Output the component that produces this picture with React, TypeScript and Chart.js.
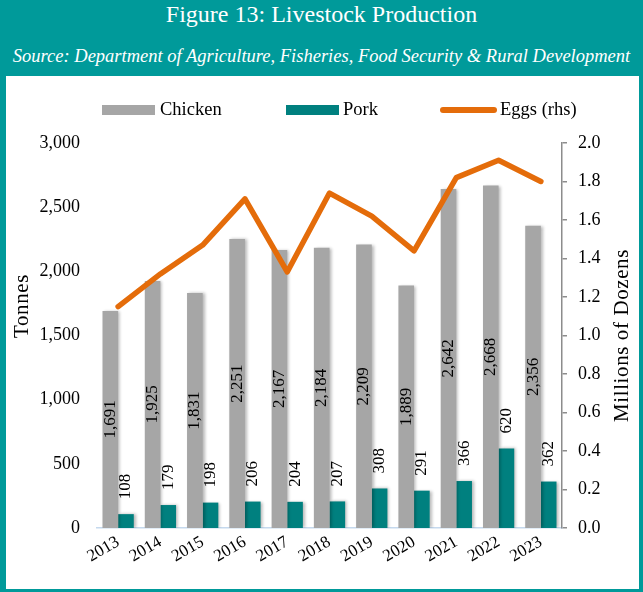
import { useEffect, useRef } from 'react';
import { Chart, registerables } from 'chart.js';

Chart.register(...registerables);

const years = ['2013', '2014', '2015', '2016', '2017', '2018', '2019', '2020', '2021', '2022', '2023'];
const chicken = [1691, 1925, 1831, 2251, 2167, 2184, 2209, 1889, 2642, 2668, 2356];
const pork = [108, 179, 198, 206, 204, 207, 308, 291, 366, 620, 362];
const eggs = [1.15, 1.32, 1.47, 1.71, 1.33, 1.74, 1.62, 1.44, 1.82, 1.91, 1.8];

const TEAL = '#009A9A';
const PORK = '#00807F';
const GRAY = '#A6A6A6';
const ORANGE = '#E46C0A';
const AXIS_GRAY = '#8C8C8C';
const FONT = "'Liberation Serif', 'Times New Roman', serif";

const fmt = (v: number) => v.toLocaleString('en-US');

const overlayPlugin = {
  id: 'overlay',
  beforeDatasetDraw(chart: any, args: any) {
    if (args.meta.type === 'bar') {
      const ctx = chart.ctx;
      ctx.save();
      ctx.shadowColor = 'rgba(0,0,0,0.28)';
      ctx.shadowBlur = 3;
      ctx.shadowOffsetX = 2;
      ctx.shadowOffsetY = 0;
    }
  },
  afterDatasetDraw(chart: any, args: any) {
    if (args.meta.type === 'bar') chart.ctx.restore();
  },
  afterDraw(chart: any) {
    const ctx = chart.ctx as any;
    ctx.save();
    ctx.fillStyle = '#000';
    // data labels
    ctx.font = `17px ${FONT}`;
    chart.data.datasets.forEach((ds: any, di: number) => {
      const meta = chart.getDatasetMeta(di);
      if (meta.type !== 'bar') return;
      meta.data.forEach((bar: any, i: number) => {
        const val = ds.data[i] as number;
        const txt = fmt(val);
        ctx.save();
        if (ds.label === 'Chicken') {
          ctx.translate(bar.x, (bar.y + bar.base) / 2);
          ctx.rotate(-Math.PI / 2);
          ctx.textAlign = 'center';
          ctx.textBaseline = 'middle';
          ctx.fillText(txt, 0, 0);
        } else {
          ctx.translate(bar.x, bar.y - 15);
          ctx.rotate(-Math.PI / 2);
          ctx.textAlign = 'left';
          ctx.textBaseline = 'middle';
          ctx.fillText(txt, 0, 0);
        }
        ctx.restore();
      });
    });
    // axis titles
    ctx.font = `21px ${FONT}`;
    ctx.letterSpacing = '0.6px';
    ctx.textAlign = 'center';
    ctx.textBaseline = 'middle';
    ctx.save();
    ctx.translate(16, 230);
    ctx.rotate(-Math.PI / 2);
    ctx.fillText('Tonnes', 0, 0);
    ctx.restore();
    ctx.save();
    ctx.translate(616, (chart.chartArea.top + chart.chartArea.bottom) / 2);
    ctx.rotate(-Math.PI / 2);
    ctx.fillText('Millions of Dozens', 0, 0);
    ctx.restore();
    ctx.letterSpacing = '0px';
    // legend
    const ly = 34;
    ctx.font = `18.5px ${FONT}`;
    ctx.textAlign = 'left';
    ctx.textBaseline = 'middle';
    ctx.fillStyle = GRAY;
    ctx.fillRect(96, ly - 5, 53, 10);
    ctx.fillStyle = '#000';
    ctx.fillText('Chicken', 154, ly);
    ctx.fillStyle = PORK;
    ctx.fillRect(280, ly - 5, 53, 10);
    ctx.fillStyle = '#000';
    ctx.fillText('Pork', 337, ly);
    ctx.strokeStyle = ORANGE;
    ctx.lineWidth = 6;
    ctx.lineCap = 'round';
    ctx.beginPath();
    ctx.moveTo(437, ly);
    ctx.lineTo(488, ly);
    ctx.stroke();
    ctx.fillStyle = '#000';
    ctx.fillText('Eggs (rhs)', 494, ly);
    ctx.restore();
  },
};

export default function App() {
  const ref = useRef<HTMLCanvasElement>(null);
  useEffect(() => {
    document.body.style.margin = '0';
    const chart = new Chart(ref.current!, {
      data: {
        labels: years,
        datasets: [
          {
            type: 'line',
            label: 'Eggs (rhs)',
            data: eggs,
            yAxisID: 'y1',
            borderColor: ORANGE,
            backgroundColor: ORANGE,
            borderWidth: 5.5,
            pointRadius: 0,
            tension: 0,
            borderJoinStyle: 'round',
            borderCapStyle: 'round',
            order: 0,
          } as any,
          {
            type: 'bar',
            label: 'Chicken',
            data: chicken,
            yAxisID: 'y',
            backgroundColor: GRAY,
            categoryPercentage: 0.74,
            barPercentage: 1,
            order: 1,
          },
          {
            type: 'bar',
            label: 'Pork',
            data: pork,
            yAxisID: 'y',
            backgroundColor: PORK,
            categoryPercentage: 0.74,
            barPercentage: 1,
            order: 2,
          },
        ],
      },
      options: {
        responsive: false,
        animation: false,
        layout: { padding: { top: 67, left: 0, right: 0, bottom: 0 } },
        plugins: { legend: { display: false }, tooltip: { enabled: false } },
        scales: {
          x: {
            grid: { display: false, drawTicks: false },
            border: { display: true, color: '#C5D9EE', width: 1.5 },
            ticks: {
              color: '#000',
              font: { family: FONT, size: 17 },
              minRotation: 30,
              maxRotation: 30,
              autoSkip: false,
              padding: 4,
            },
            afterFit: (s: any) => { s.height = 61; },
          },
          y: {
            position: 'left',
            min: 0,
            max: 3000,
            grid: { display: false, drawTicks: false },
            border: { display: false },
            ticks: {
              stepSize: 500,
              color: '#000',
              font: { family: FONT, size: 18 },
              padding: 17,
              callback: (v: any) => fmt(Number(v)),
            },
            afterFit: (s: any) => { s.width = 91; },
          },
          y1: {
            position: 'right',
            min: 0,
            max: 2,
            grid: { display: true, drawOnChartArea: false, drawTicks: true, tickLength: 5, color: AXIS_GRAY, lineWidth: 1.5 },
            border: { display: true, color: AXIS_GRAY, width: 1.5 },
            ticks: {
              stepSize: 0.2,
              color: '#000',
              font: { family: FONT, size: 18 },
              padding: 11,
              callback: (v: any) => Number(v).toFixed(1),
            },
            afterFit: (s: any) => { s.width = 77; },
          },
        },
      },
      plugins: [overlayPlugin],
    });
    return () => chart.destroy();
  }, []);

  return (
    <div style={{ position: 'relative', width: 643, height: 592, background: TEAL, overflow: 'hidden' }}>
      <div
        style={{
          position: 'absolute', left: 0, top: 1, width: 643, textAlign: 'center',
          color: '#fff', fontFamily: FONT, fontSize: 24, lineHeight: '26px', whiteSpace: 'nowrap',
        }}
      >
        Figure 13: Livestock Production
      </div>
      <div
        style={{
          position: 'absolute', left: 0, top: 45, width: 643, textAlign: 'center',
          color: '#fff', fontFamily: FONT, fontSize: 18.5, fontStyle: 'italic', lineHeight: '22px', whiteSpace: 'nowrap',
        }}
      >
        Source: Department of Agriculture, Fisheries, Food Security &amp; Rural Development
      </div>
      <div style={{ position: 'absolute', left: 6, top: 76, width: 633, height: 513, background: '#fff' }}>
        <canvas ref={ref} width={633} height={513} style={{ display: 'block' }} />
      </div>
    </div>
  );
}
